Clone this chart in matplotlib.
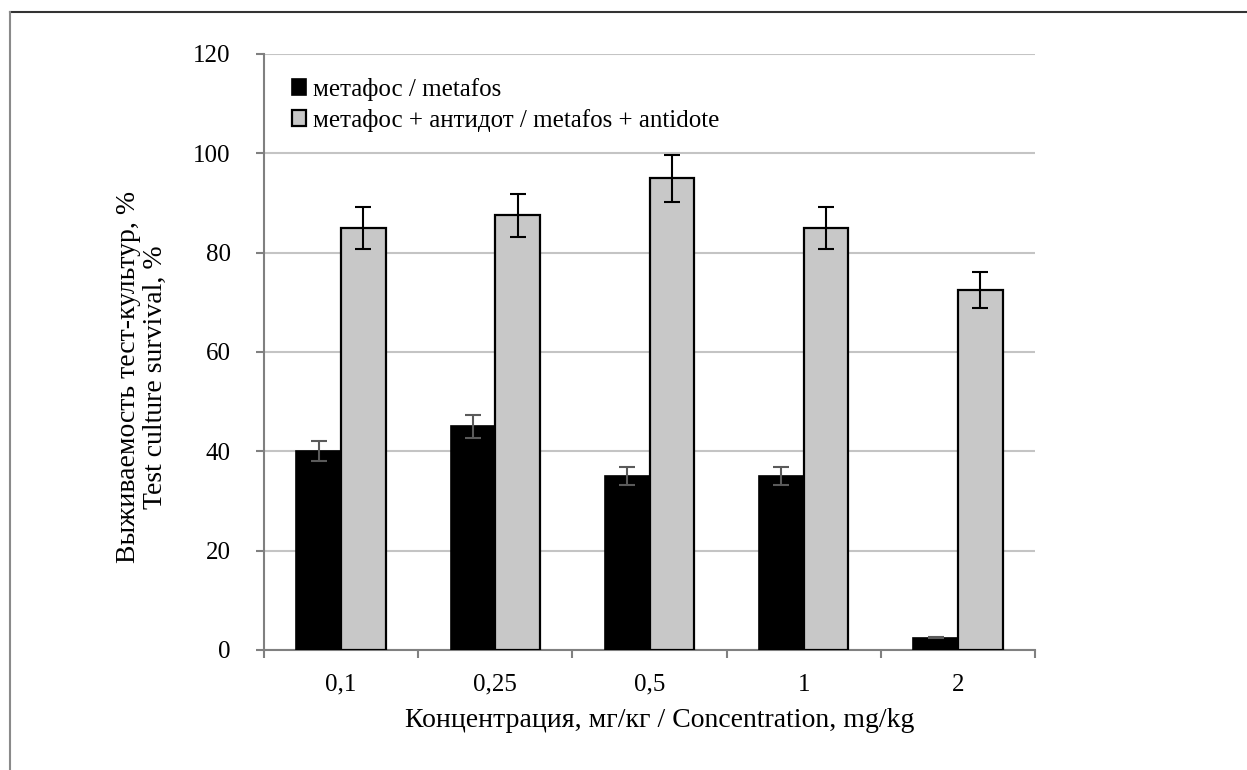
import matplotlib.pyplot as plt
from matplotlib.lines import Line2D
import numpy as np

plt.rcParams['font.family'] = ['Liberation Serif', 'DejaVu Serif']

categories = ['0,1', '0,25', '0,5', '1', '2']
metafos = [40, 45, 35, 35, 2.5]
metafos_err = [2, 2.25, 1.75, 1.75, 0.125]
antidote = [85, 87.5, 95, 85, 72.5]
antidote_err = [4.25, 4.4, 4.75, 4.25, 3.6]

fig = plt.figure(figsize=(12.47, 7.7), dpi=100)
ax = fig.add_axes([264 / 1247, 1 - 650 / 770, 771 / 1247, 596 / 770])

x = np.arange(len(categories))
w = 0.29
ax.bar(x - w / 2, metafos, width=w, color='black', edgecolor='black', linewidth=1.2,
       label='метафос / metafos', zorder=3)
ax.bar(x + w / 2, antidote, width=w, color='#c8c8c8', edgecolor='black', linewidth=1.6,
       label='метафос + антидот / metafos + antidote', zorder=3)
ax.errorbar(x - w / 2, metafos, yerr=metafos_err, fmt='none', ecolor='#5a5a5a',
            elinewidth=1.5, capsize=6, capthick=1.5, zorder=4)
ax.errorbar(x + w / 2, antidote, yerr=antidote_err, fmt='none', ecolor='black',
            elinewidth=1.5, capsize=6, capthick=1.5, zorder=4)

ax.set_xlim(-0.5, len(categories) - 0.5)
ax.set_ylim(0, 120)
ax.set_yticks(range(0, 121, 20))
ax.yaxis.grid(True, color='#c4c4c4', linewidth=1.5, zorder=0)
ax.set_axisbelow(True)

# tick marks between categories, labels at centres
ax.set_xticks(np.arange(-0.5, len(categories), 1.0))
ax.set_xticklabels([])
ax.set_xticks(x, minor=True)
ax.set_xticklabels(categories, minor=True)
ax.tick_params(axis='x', which='major', direction='out', length=6, width=1.5, color='#808080')
ax.tick_params(axis='x', which='minor', length=0, pad=17, labelsize=18)
ax.tick_params(axis='y', direction='out', length=6, width=1.5, color='#808080', pad=18, labelsize=18)

for s in ['top', 'right']:
    ax.spines[s].set_visible(False)
for s in ['left', 'bottom']:
    ax.spines[s].set_color('#808080')
    ax.spines[s].set_linewidth(1.5)

ax.set_xlabel('Концентрация, мг/кг / Concentration, mg/kg', fontsize=20, x=0.513, labelpad=9)
fig.text(142 / 1247, 1 - 377 / 770, 'Выживаемость тест-культур, %\nTest culture survival, %',
         rotation=90, ha='center', va='center', fontsize=20, linespacing=1.08, multialignment='center')

ax.legend(loc='upper left', bbox_to_anchor=(0.036, 0.960), frameon=False, fontsize=18,
          handlelength=0.55, handleheight=0.55, handletextpad=0.3, labelspacing=0.32,
          borderpad=0, borderaxespad=0)

# outer frame
fig.add_artist(Line2D([10 / 1247, 1.0], [1 - 12 / 770, 1 - 12 / 770], transform=fig.transFigure,
                      color='#333333', linewidth=1.5))
fig.add_artist(Line2D([10 / 1247, 10 / 1247], [0.0, 1 - 12 / 770], transform=fig.transFigure,
                      color='#8a8a8a', linewidth=1.5))

fig.savefig('out.png', dpi=100)
